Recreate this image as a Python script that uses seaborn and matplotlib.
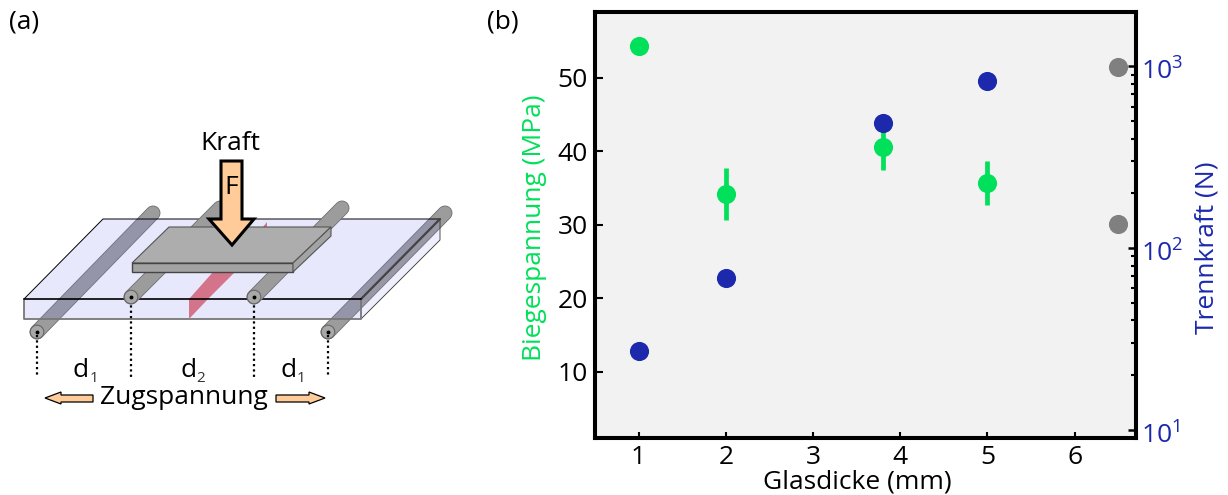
import matplotlib
matplotlib.use("Agg")
import matplotlib.pyplot as plt
from matplotlib.patches import Polygon
from matplotlib.transforms import ScaledTranslation
import pandas as pd
import seaborn as sns

thickness = [1, 2, 3.8, 5]
stress = [54.3, 34.2, 40.6, 35.7]
stress_err = [0.0, 3.55, 3.2, 3.05]
force = [27.1, 68.5, 488, 830]
grey_thickness = [6.5, 6.5]
grey_force = [987, 135]

GREEN = "#00e05a"
BLUE = "#1c29ac"
GREY = "#808080"
W, H = 1228, 495
FS = 19

sns.set_style("white")
plt.rcParams["font.family"] = ["Open Sans", "DejaVu Sans"]
plt.rcParams["text.color"] = "black"
plt.rcParams["axes.labelcolor"] = "black"
plt.rcParams["xtick.color"] = "black"
plt.rcParams["ytick.color"] = "black"
plt.rcParams["mathtext.fontset"] = "custom"
plt.rcParams["mathtext.rm"] = "Open Sans"
plt.rcParams["mathtext.default"] = "rm"

fig = plt.figure(figsize=(W / 100, H / 100), dpi=100)

# (b) measurements
ax = fig.add_axes([595 / W, 1 - 437.7 / H, 540.7 / W, 426 / H])
ax.set_facecolor("#f2f2f2")
df = pd.DataFrame({"d": thickness, "stress": stress, "force": force})
ax.errorbar(thickness, stress, yerr=stress_err, fmt="none", ecolor=GREEN, elinewidth=3.4, zorder=2)
sns.scatterplot(data=df, x="d", y="stress", color=GREEN, s=190, linewidth=0, ax=ax, zorder=3)
ax.set_xlim(0.5, 6.7)
ax.set_ylim(1.05, 59)
ax.set_xticks([1, 2, 3, 4, 5, 6])
ax.set_yticks([10, 20, 30, 40, 50])
ax.tick_params(axis="y", direction="in", length=5.5, width=1.5, labelsize=FS, pad=5, left=True)
ax.tick_params(axis="x", direction="in", length=4.5, width=1.5, labelsize=FS, pad=5, bottom=True)
ax.set_xlabel("Glasdicke (mm)", fontsize=FS, labelpad=0, x=0.485)
ax.set_ylabel("Biegespannung (MPa)", fontsize=FS, color=GREEN, labelpad=8, y=0.494)

ax2 = ax.twinx()
sns.scatterplot(data=df, x="d", y="force", color=BLUE, s=190, linewidth=0, ax=ax2, zorder=4)
sns.scatterplot(x=grey_thickness, y=grey_force, color=GREY, s=190, linewidth=0, ax=ax2, zorder=4)
ax2.set_yscale("log")
ax2.set_ylim(9.07, 1995)
ax2.tick_params(axis="y", which="major", direction="in", length=5.5, width=1.8, labelsize=FS, labelcolor=BLUE, pad=4, right=True)
ax2.tick_params(axis="y", which="minor", direction="in", length=3.8, width=1.5, right=True)
ax2.set_ylabel("Trennkraft (N)", fontsize=FS, color=BLUE, labelpad=8.5, y=0.445)
for lab in ax2.get_yticklabels():
    lab.set_transform(lab.get_transform() + ScaledTranslation(0, -2 / 72, fig.dpi_scale_trans))
for a in (ax, ax2):
    for s in a.spines.values():
        s.set_visible(True)
        s.set_linewidth(2.9)
        s.set_color("black")

# (a) schematic, drawn in image pixels
sk = fig.add_axes([0, 0, 1, 1], zorder=-1)
sk.set_xlim(0, W)
sk.set_ylim(H, 0)
sk.axis("off")


def poly(pts, fc, ec="black", lw=0.8, alpha=1, z=1):
    sk.add_patch(Polygon(pts, closed=True, facecolor=fc, edgecolor=ec, linewidth=lw, alpha=alpha, zorder=z))


def rod(x0, y0, x1, y1, z):
    sk.plot([x0, x1], [y0, y1], color="#707070", lw=10.8, solid_capstyle="round", zorder=z)
    sk.plot([x0, x1], [y0, y1], color="#9c9c9c", lw=9.6, solid_capstyle="round", zorder=z)
    sk.add_patch(plt.Circle((x0, y0), 6.8, facecolor="#a8a8a8", edgecolor="#666666", linewidth=0.8, zorder=z + 0.1))
    sk.plot([x0], [y0], "o", color="black", ms=1.8, zorder=z + 0.2)


def dim(x, sub_x, name, sub):
    sk.text(x, 377, name, fontsize=FS, ha="left", va="baseline")
    sk.text(sub_x, 382, sub, fontsize=11, ha="left", va="baseline", color="#333333")


# rods under the glass
rod(37, 332, 153, 213, 1)
rod(328, 332, 445, 213, 1)

# glass plate
glass = "#7878f0"
poly([(103, 219), (440, 219), (361, 299), (24, 299)], glass, ec="none", alpha=0.17, z=2)
poly([(361, 299), (440, 219), (440, 240), (361, 319)], glass, ec="none", alpha=0.12, z=2)
poly([(24, 299), (361, 299), (361, 319), (24, 319)], glass, ec="none", alpha=0.17, z=2)
sk.plot([24, 103, 440, 361], [299, 219, 219, 299], color="black", lw=0.7, zorder=2.5)
sk.plot([361, 440, 440], [319, 240, 219], color="#333333", lw=0.6, zorder=2.5)
sk.plot([24, 24, 361, 361], [299, 319, 319, 299], color="#777777", lw=1.3, zorder=2.5)
sk.plot([361, 440], [299, 219], color="#444444", lw=1.6, zorder=2.5)

# crack
poly([(189, 299), (213, 272), (235, 272), (208, 299), (189, 319)], "#d4748a", ec="none", z=3)
poly([(263, 227), (267, 222), (267, 227)], "#d4748a", ec="none", z=3)
sk.plot([24, 361], [299, 299], color="black", lw=1.2, zorder=3.1)

# upper rods
rod(131, 297, 220, 208, 3.2)
rod(254, 297, 342, 208, 3.2)

# pressure plate
poly([(132, 263), (293, 263), (331, 227), (169, 227)], "#adadad", ec="#555555", z=4)
poly([(132, 263), (293, 263), (293, 272), (132, 272)], "#a3a3a3", ec="#444444", lw=1.0, z=4)
poly([(293, 263), (331, 227), (331, 236), (293, 272)], "#a3a3a3", ec="#555555", z=4)

# force arrow
poly([(221, 161), (242, 161), (242, 219), (254, 219), (232, 245), (209, 219), (221, 219)], "#ffcc99", lw=2.2, z=5)
sk.text(231, 187, "F", fontsize=FS, ha="center", va="center", zorder=6)
sk.text(230, 143, "Kraft", fontsize=FS, ha="center", va="center")

# dotted measure lines
for x, y in [(37, 335), (131, 300), (254, 300), (328, 335)]:
    sk.plot([x, x], [y, 377], color="black", lw=1.6, ls=(0, (1, 1.4)), zorder=3)
dim(72, 90, "d", "1")
dim(180, 196, "d", "2")
dim(280, 297, "d", "1")
sk.text(184, 398, "Zugspannung", fontsize=FS, ha="center", va="center")

# tension arrows
poly([(93, 395), (61, 395), (61, 392), (45, 398), (61, 404), (61, 402), (93, 402)], "#ffcc99", lw=0.9)
poly([(276, 395), (309, 395), (309, 392), (325, 398), (309, 404), (309, 402), (276, 402)], "#ffcc99", lw=0.9)

fig.text(9 / W, 1 - 22 / H, "(a)", fontsize=FS, va="center")
fig.text(487 / W, 1 - 22 / H, "(b)", fontsize=FS, va="center")

fig.savefig("out.png", dpi=100)
